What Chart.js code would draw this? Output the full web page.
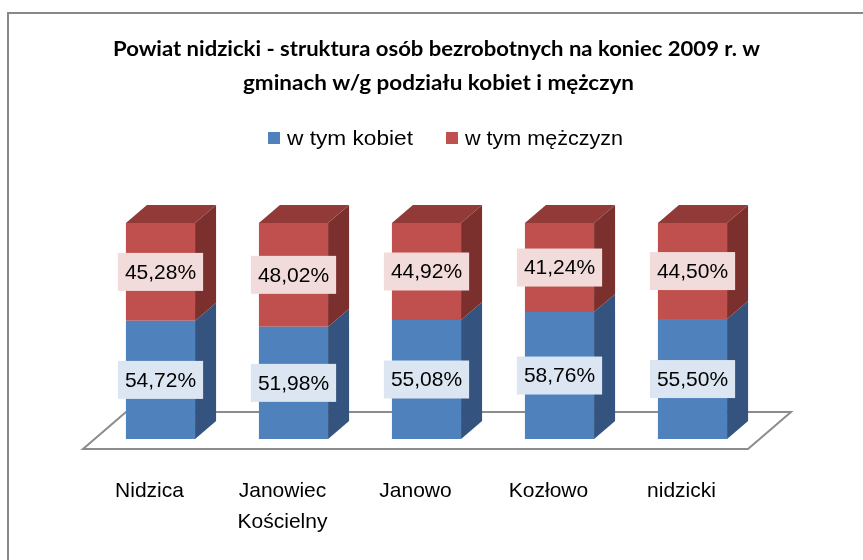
<!DOCTYPE html>
<html>
<head>
<meta charset="utf-8">
<script src="https://cdn.jsdelivr.net/npm/chart.js@4.4.1/dist/chart.umd.min.js"></script>
<style>
html,body{margin:0;padding:0;background:#fff;}
#wrap{position:relative;width:863px;height:560px;}
canvas{display:block;}
</style>
</head>
<body>
<div id="wrap"><canvas id="c" width="863" height="560"></canvas></div>
<script>
const titleLines = ['Powiat nidzicki - struktura osób bezrobotnych na koniec 2009 r. w', 'gminach w/g podziału kobiet i mężczyn'];
const categories = ['Nidzica', ['Janowiec', 'Kościelny'], 'Janowo', 'Kozłowo', 'nidzicki'];
const seriesNames = ['w tym kobiet', 'w tym mężczyzn'];
const kobiet = [54.72, 51.98, 55.08, 58.76, 55.50];
const mezczyzn = [45.28, 48.02, 44.92, 41.24, 44.50];

const FRONT = ['#4f81bd', '#c0504d'];
const SIDE = ['#34537e', '#7b302e'];
const TOP = ['#3f6797', '#923a37'];
const LABELBG = ['#dce6f2', '#f2dcdb'];
const DX = 21, DY = -18;
const SANS = "'Liberation Sans', Arial, sans-serif";
const TITLE_FONT = "bold 20px Lato, 'Open Sans', 'Liberation Sans', sans-serif";

const fmt = v => v.toFixed(2).replace('.', ',') + '%';

// draw text horizontally fitted to a given width, starting at x
function fitText(ctx, text, x, y, width) {
  const m = ctx.measureText(text).width;
  ctx.save();
  ctx.translate(x, y);
  ctx.scale(width / m, 1);
  ctx.textAlign = 'left';
  ctx.fillText(text, 0, 0);
  ctx.restore();
}

const deco = {
  id: 'deco',
  beforeDatasetsDraw(chart) {
    const ctx = chart.ctx, a = chart.chartArea;
    ctx.save();
    // frame
    ctx.strokeStyle = '#888888';
    ctx.lineWidth = 2;
    ctx.strokeRect(8, 13, 900, 600);
    // title
    ctx.fillStyle = '#000';
    ctx.font = TITLE_FONT;
    ctx.textBaseline = 'alphabetic';
    fitText(ctx, titleLines[0], 113, 56, 647);
    fitText(ctx, titleLines[1], 243, 90, 391);
    // legend
    ctx.font = "21px " + SANS;
    ctx.textBaseline = 'middle';
    const lx = [268, 446];
    const lw = [126, 158];
    chart.data.datasets.forEach((ds, i) => {
      ctx.fillStyle = FRONT[i];
      ctx.fillRect(lx[i], 132, 12, 12);
      ctx.fillStyle = '#000';
      fitText(ctx, ds.label, lx[i] + 19, 139, lw[i]);
    });
    // floor
    const fl = a.left - 11, fr = a.right - 11, fy = a.bottom + 10, fdx = 43, fdy = -37;
    ctx.beginPath();
    ctx.moveTo(fl, fy);
    ctx.lineTo(fr, fy);
    ctx.lineTo(fr + fdx, fy + fdy);
    ctx.lineTo(fl + fdx, fy + fdy);
    ctx.closePath();
    ctx.fillStyle = '#ffffff';
    ctx.fill();
    ctx.strokeStyle = '#8c8c8c';
    ctx.lineWidth = 2;
    ctx.stroke();
    ctx.restore();
  },
  afterDatasetsDraw(chart) {
    const ctx = chart.ctx;
    ctx.save();
    const n = chart.data.datasets.length;
    chart.data.datasets.forEach((ds, di) => {
      const meta = chart.getDatasetMeta(di);
      meta.data.forEach(el => {
        const p = el.getProps(['x', 'y', 'base', 'width'], true);
        const l = p.x - p.width / 2, r = p.x + p.width / 2;
        ctx.beginPath();
        ctx.moveTo(r, p.y);
        ctx.lineTo(r + DX, p.y + DY);
        ctx.lineTo(r + DX, p.base + DY);
        ctx.lineTo(r, p.base);
        ctx.closePath();
        ctx.fillStyle = SIDE[di];
        ctx.fill();
        if (di === n - 1) {
          ctx.beginPath();
          ctx.moveTo(l, p.y);
          ctx.lineTo(l + DX, p.y + DY);
          ctx.lineTo(r + DX, p.y + DY);
          ctx.lineTo(r, p.y);
          ctx.closePath();
          ctx.fillStyle = TOP[di];
          ctx.fill();
        }
      });
    });
    // value labels
    ctx.font = "21px " + SANS;
    ctx.textAlign = 'center';
    ctx.textBaseline = 'middle';
    chart.data.datasets.forEach((ds, di) => {
      const meta = chart.getDatasetMeta(di);
      meta.data.forEach((el, i) => {
        const p = el.getProps(['x', 'y', 'base'], true);
        const cy = (p.y + p.base) / 2;
        const t = fmt(ds.data[i]);
        const w = ctx.measureText(t).width + 14;
        ctx.fillStyle = LABELBG[di];
        ctx.fillRect(p.x - w / 2, cy - 19, w, 38);
        ctx.fillStyle = '#000';
        ctx.fillText(t, p.x, cy + 1);
      });
    });
    // category labels
    const xs = chart.scales.x;
    chart.data.labels.forEach((lab, i) => {
      const x = xs.getPixelForValue(i) - 11;
      const lines = Array.isArray(lab) ? lab : [lab];
      lines.forEach((s, k) => ctx.fillText(s, x, 491 + k * 31));
    });
    ctx.restore();
  }
};

new Chart(document.getElementById('c'), {
  type: 'bar',
  data: {
    labels: categories,
    datasets: [
      { label: seriesNames[0], data: kobiet, backgroundColor: FRONT[0], borderWidth: 0 },
      { label: seriesNames[1], data: mezczyzn, backgroundColor: FRONT[1], borderWidth: 0 }
    ]
  },
  options: {
    responsive: false,
    animation: false,
    layout: { padding: { left: 94, right: 104, top: 223, bottom: 121 } },
    plugins: { legend: { display: false }, title: { display: false }, tooltip: { enabled: false } },
    datasets: { bar: { barPercentage: 0.52, categoryPercentage: 1.0 } },
    scales: {
      x: { display: false, stacked: true, grid: { display: false } },
      y: { display: false, stacked: true, min: 0, max: 100, grid: { display: false } }
    }
  },
  plugins: [deco]
});
</script>
</body>
</html>
